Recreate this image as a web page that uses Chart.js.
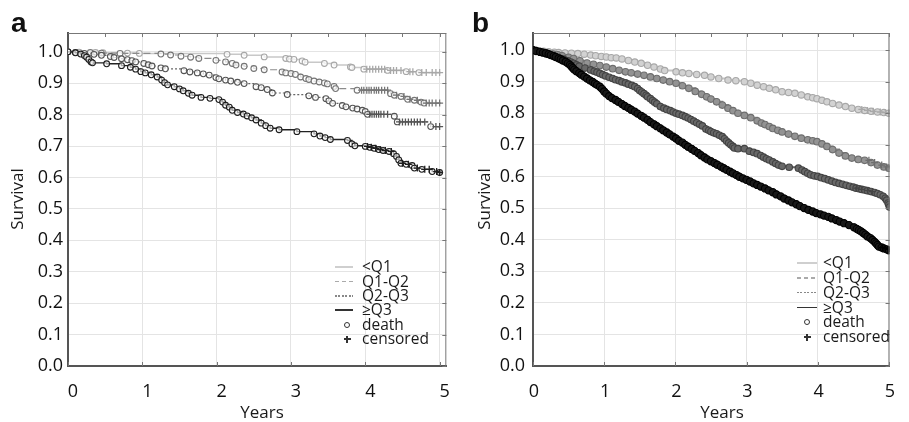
<!DOCTYPE html>
<html>
<head>
<meta charset="utf-8">
<script src="https://cdn.jsdelivr.net/npm/chart.js@4.4.1/dist/chart.umd.min.js"></script>
<style>
  body { margin: 0; background: #fff; }
  #wrap { position: relative; width: 909px; height: 422px; overflow: hidden; font-family: 'Open Sans', sans-serif; color: #1a1a1a; }
  canvas { position: absolute; top: 0; }
  .letter { position: absolute; font: bold 28px 'Liberation Sans', Arial, sans-serif; line-height: 28px; color: #111; }
  .ytitle { position: absolute; width: 200px; height: 20px; line-height: 20px; font-size: 17px; text-align: center; transform: rotate(-90deg); }
  .xtitle { position: absolute; width: 100px; height: 20px; line-height: 20px; font-size: 17px; text-align: center; }
  .lg { position: absolute; }
  .lgtxt { position: absolute; font-size: 15.5px; line-height: 14.4px; white-space: nowrap; }
</style>
</head>
<body>
<div id="wrap">
  <canvas id="chartA" width="460" height="422" style="left:0"></canvas>
  <canvas id="chartB" width="449" height="422" style="left:460px"></canvas>
  <div class="letter" style="left:11px; top:9px">a</div>
  <div class="letter" style="left:472px; top:9px">b</div>
  <div class="ytitle" style="left:-83px; top:189px">Survival</div>
  <div class="ytitle" style="left:384px; top:189px">Survival</div>
  <div class="xtitle" style="left:212px; top:402px">Years</div>
  <div class="xtitle" style="left:672px; top:402px">Years</div>
</div>
<script>
// axis ticks
const xTicks = [0, 1, 2, 3, 4, 5];
const xFrameTicks = [0.5, 1, 1.5, 2, 2.5, 3, 3.5, 4, 4.5, 5];
const yTicks = [0, 0.1, 0.2, 0.3, 0.4, 0.5, 0.6, 0.7, 0.8, 0.9, 1.0];
const seriesLabels = ['<Q1', 'Q1-Q2', 'Q2-Q3', '≥Q3'];
const markLabels = ['death', 'censored'];

// panel a: [years, survival] at each death, last entry = end of follow-up
const aLow = [[0,1],[0.15,0.999],[0.37,0.998],[0.47,0.997],[0.8,0.996],[0.96,0.995],[2.14,0.992],[2.37,0.989],[2.64,0.984],[2.93,0.979],[2.98,0.977],[3.04,0.976],[3.15,0.971],[3.19,0.967],[3.45,0.963],[3.58,0.958],[3.8,0.952],[3.82,0.95],[3.98,0.945],[4.3,0.941],[4.55,0.937],[4.72,0.934],[5.02,0.934]];
const aQ12 = [[0,1],[0.3,0.998],[0.45,0.996],[0.7,0.995],[1.25,0.993],[1.38,0.99],[1.52,0.986],[1.65,0.983],[1.76,0.979],[1.99,0.973],[2.12,0.968],[2.21,0.963],[2.26,0.958],[2.37,0.954],[2.5,0.947],[2.64,0.943],[2.88,0.936],[2.93,0.933],[3.0,0.931],[3.06,0.928],[3.13,0.92],[3.2,0.915],[3.24,0.912],[3.31,0.907],[3.38,0.904],[3.45,0.901],[3.49,0.898],[3.58,0.89],[3.6,0.883],[3.89,0.878],[4.34,0.867],[4.39,0.862],[4.48,0.858],[4.57,0.849],[4.66,0.846],[4.75,0.84],[4.79,0.837],[5.02,0.837]];
const aQ23 = [[0,1],[0.1,0.998],[0.22,0.995],[0.35,0.992],[0.45,0.989],[0.57,0.985],[0.62,0.982],[0.72,0.978],[0.8,0.975],[0.86,0.972],[0.91,0.968],[1.02,0.963],[1.08,0.959],[1.13,0.955],[1.25,0.949],[1.31,0.946],[1.56,0.94],[1.64,0.936],[1.74,0.933],[1.82,0.93],[1.9,0.926],[1.99,0.918],[2.03,0.914],[2.12,0.91],[2.19,0.907],[2.28,0.903],[2.37,0.899],[2.53,0.889],[2.6,0.886],[2.68,0.88],[2.75,0.869],[2.95,0.864],[3.24,0.86],[3.33,0.855],[3.47,0.851],[3.51,0.844],[3.56,0.836],[3.69,0.829],[3.74,0.825],[3.83,0.821],[3.89,0.818],[3.96,0.814],[4.0,0.81],[4.03,0.801],[4.39,0.795],[4.43,0.777],[4.88,0.762],[5.02,0.762]];
const aHigh = [[0,1],[0.1,0.997],[0.17,0.993],[0.22,0.988],[0.25,0.983],[0.28,0.976],[0.31,0.968],[0.33,0.965],[0.52,0.962],[0.72,0.956],[0.84,0.951],[0.91,0.945],[0.98,0.937],[1.04,0.933],[1.12,0.927],[1.2,0.92],[1.26,0.91],[1.3,0.902],[1.34,0.895],[1.43,0.889],[1.5,0.882],[1.55,0.876],[1.62,0.868],[1.67,0.862],[1.79,0.855],[1.91,0.852],[2.03,0.848],[2.08,0.84],[2.12,0.83],[2.17,0.824],[2.21,0.814],[2.28,0.807],[2.36,0.802],[2.41,0.796],[2.47,0.79],[2.53,0.783],[2.6,0.773],[2.66,0.765],[2.72,0.757],[2.84,0.752],[3.08,0.746],[3.31,0.739],[3.39,0.732],[3.46,0.727],[3.53,0.721],[3.76,0.718],[3.82,0.707],[3.86,0.701],[4.0,0.699],[4.06,0.696],[4.12,0.693],[4.18,0.689],[4.24,0.686],[4.32,0.683],[4.38,0.676],[4.42,0.667],[4.45,0.656],[4.48,0.645],[4.55,0.642],[4.63,0.638],[4.66,0.63],[4.76,0.626],[4.9,0.619],[5.0,0.616],[5.03,0.616]];
const aLowCens = [4.02,4.06,4.1,4.14,4.18,4.22,4.26,4.34,4.38,4.42,4.48,4.6,4.64,4.76,4.82,4.9,4.95,5.0];
const aQ12Cens = [3.95,3.98,4.02,4.05,4.08,4.12,4.15,4.18,4.22,4.26,4.3,4.42,4.52,4.6,4.7,4.82,4.86,4.9,4.95,5.0];
const aQ23Cens = [4.06,4.09,4.12,4.15,4.18,4.21,4.25,4.3,4.46,4.5,4.54,4.58,4.62,4.66,4.7,4.74,4.8,4.95,5.0];
const aHighCens = [4.03,4.08,4.14,4.2,4.27,4.35,4.5,4.58,4.7,4.8,4.86,4.96,5.0];

// panel b
const bLow = [[0,1],[0.04,0.999],[0.08,0.998],[0.15,0.996],[0.22,0.995],[0.3,0.993],[0.36,0.992],[0.45,0.991],[0.54,0.99],[0.63,0.989],[0.72,0.987],[0.81,0.984],[0.88,0.982],[0.96,0.98],[1.03,0.978],[1.1,0.976],[1.17,0.975],[1.25,0.972],[1.34,0.967],[1.43,0.962],[1.52,0.958],[1.61,0.952],[1.7,0.946],[1.79,0.94],[1.85,0.935],[2.01,0.931],[2.1,0.928],[2.19,0.926],[2.3,0.923],[2.41,0.92],[2.5,0.915],[2.61,0.91],[2.74,0.905],[2.85,0.903],[2.97,0.9],[3.06,0.895],[3.15,0.889],[3.24,0.884],[3.32,0.879],[3.41,0.874],[3.5,0.868],[3.59,0.866],[3.68,0.863],[3.77,0.858],[3.86,0.852],[3.93,0.849],[3.99,0.846],[4.06,0.841],[4.13,0.836],[4.21,0.831],[4.3,0.826],[4.39,0.821],[4.48,0.816],[4.57,0.812],[4.66,0.809],[4.75,0.806],[4.84,0.804],[4.93,0.802],[5.0,0.8],[5.02,0.8]];
const bQ12 = [[0,1],[0.05,0.998],[0.12,0.994],[0.2,0.99],[0.28,0.987],[0.35,0.985],[0.41,0.982],[0.5,0.977],[0.57,0.973],[0.66,0.966],[0.76,0.959],[0.85,0.955],[0.94,0.951],[1.03,0.946],[1.12,0.941],[1.21,0.936],[1.3,0.931],[1.38,0.928],[1.47,0.924],[1.56,0.92],[1.65,0.915],[1.74,0.91],[1.83,0.905],[1.92,0.9],[2.01,0.895],[2.1,0.887],[2.19,0.879],[2.28,0.869],[2.37,0.86],[2.44,0.852],[2.5,0.845],[2.58,0.836],[2.66,0.826],[2.74,0.816],[2.81,0.808],[2.88,0.8],[2.97,0.793],[3.06,0.786],[3.15,0.776],[3.21,0.769],[3.26,0.764],[3.32,0.758],[3.37,0.752],[3.44,0.746],[3.5,0.741],[3.59,0.734],[3.68,0.727],[3.77,0.721],[3.86,0.716],[3.93,0.713],[3.99,0.71],[4.06,0.703],[4.13,0.695],[4.21,0.685],[4.3,0.674],[4.39,0.665],[4.48,0.658],[4.57,0.654],[4.66,0.651],[4.75,0.644],[4.84,0.636],[4.93,0.63],[5.0,0.626],[5.02,0.626]];
const bQ23 = [[0,1],[0.05,0.997],[0.12,0.992],[0.2,0.987],[0.28,0.982],[0.36,0.976],[0.43,0.971],[0.49,0.966],[0.53,0.962],[0.57,0.958],[0.61,0.953],[0.65,0.949],[0.73,0.943],[0.81,0.937],[0.86,0.933],[0.9,0.93],[0.94,0.926],[0.98,0.922],[1.02,0.918],[1.07,0.914],[1.12,0.91],[1.16,0.906],[1.21,0.903],[1.25,0.899],[1.3,0.896],[1.34,0.892],[1.39,0.888],[1.43,0.884],[1.47,0.878],[1.5,0.872],[1.53,0.867],[1.56,0.862],[1.59,0.857],[1.61,0.852],[1.65,0.846],[1.68,0.84],[1.71,0.835],[1.74,0.83],[1.79,0.821],[1.84,0.816],[1.88,0.812],[1.93,0.808],[1.97,0.804],[2.01,0.8],[2.05,0.797],[2.1,0.793],[2.14,0.789],[2.18,0.785],[2.22,0.78],[2.26,0.775],[2.3,0.77],[2.34,0.765],[2.38,0.76],[2.43,0.75],[2.47,0.746],[2.5,0.742],[2.54,0.738],[2.58,0.735],[2.62,0.73],[2.66,0.726],[2.69,0.719],[2.72,0.712],[2.75,0.706],[2.78,0.7],[2.81,0.695],[2.83,0.69],[2.88,0.688],[2.97,0.688],[3.04,0.68],[3.1,0.676],[3.15,0.672],[3.2,0.666],[3.24,0.661],[3.28,0.656],[3.32,0.652],[3.37,0.646],[3.41,0.641],[3.45,0.636],[3.5,0.632],[3.6,0.629],[3.73,0.626],[3.78,0.62],[3.82,0.615],[3.86,0.61],[3.9,0.605],[3.95,0.602],[4.0,0.6],[4.05,0.596],[4.1,0.593],[4.15,0.589],[4.2,0.585],[4.25,0.581],[4.3,0.578],[4.35,0.575],[4.4,0.572],[4.45,0.569],[4.5,0.566],[4.54,0.563],[4.58,0.561],[4.62,0.559],[4.66,0.557],[4.7,0.555],[4.75,0.552],[4.8,0.549],[4.84,0.546],[4.88,0.542],[4.92,0.537],[4.95,0.531],[4.97,0.525],[4.99,0.516],[5.0,0.51],[5.01,0.503],[5.02,0.497]];
const bHigh = [[0,1],[0.04,0.997],[0.1,0.994],[0.14,0.992],[0.18,0.99],[0.22,0.987],[0.25,0.984],[0.29,0.981],[0.32,0.978],[0.36,0.974],[0.39,0.971],[0.42,0.967],[0.46,0.963],[0.49,0.958],[0.52,0.953],[0.54,0.948],[0.56,0.943],[0.58,0.938],[0.61,0.933],[0.65,0.927],[0.68,0.922],[0.72,0.916],[0.76,0.91],[0.8,0.904],[0.84,0.899],[0.87,0.894],[0.9,0.89],[0.94,0.884],[0.97,0.877],[1.0,0.869],[1.03,0.862],[1.07,0.854],[1.11,0.848],[1.16,0.842],[1.2,0.836],[1.25,0.829],[1.29,0.823],[1.34,0.817],[1.38,0.811],[1.43,0.805],[1.47,0.799],[1.52,0.792],[1.56,0.786],[1.61,0.779],[1.65,0.772],[1.7,0.765],[1.74,0.759],[1.79,0.752],[1.83,0.746],[1.88,0.739],[1.92,0.733],[1.97,0.726],[2.01,0.72],[2.05,0.713],[2.1,0.707],[2.14,0.7],[2.18,0.694],[2.23,0.687],[2.27,0.681],[2.32,0.674],[2.36,0.667],[2.41,0.66],[2.45,0.654],[2.5,0.648],[2.55,0.642],[2.59,0.637],[2.64,0.631],[2.68,0.626],[2.72,0.621],[2.77,0.615],[2.81,0.61],[2.86,0.604],[2.9,0.599],[2.95,0.594],[3.0,0.589],[3.05,0.584],[3.1,0.578],[3.15,0.573],[3.2,0.568],[3.26,0.562],[3.31,0.556],[3.37,0.55],[3.42,0.543],[3.48,0.537],[3.53,0.53],[3.59,0.524],[3.64,0.518],[3.7,0.512],[3.75,0.506],[3.81,0.5],[3.87,0.494],[3.93,0.489],[3.98,0.484],[4.04,0.48],[4.09,0.476],[4.15,0.472],[4.2,0.467],[4.26,0.462],[4.31,0.457],[4.37,0.452],[4.44,0.446],[4.51,0.439],[4.55,0.434],[4.58,0.43],[4.61,0.426],[4.64,0.421],[4.67,0.416],[4.7,0.41],[4.74,0.405],[4.77,0.399],[4.8,0.393],[4.82,0.388],[4.84,0.383],[4.86,0.378],[4.9,0.375],[4.93,0.372],[4.97,0.369],[5.0,0.366],[5.02,0.366]];
const bLowCens = [4.62,4.7,4.78,4.88,4.95,5.0];
const bQ12Cens = [4.72,4.8,4.9,4.97];
const bQ23Cens = [4.55,4.62,4.7,4.77];
const bHighCens = [4.91,4.95,4.99];

// survival value of a curve at time t (step function)
function survAt(curve, t) {
    let s = curve[0][1];
    curve.forEach(p => { if (p[0] <= t) s = p[1]; });
    return s;
}

const framePlugin = {
    id: 'frame',
    afterDraw(chart) {
        const { ctx, chartArea: a } = chart;
        const x = chart.scales.x, y = chart.scales.y;
        ctx.save();
        ctx.strokeStyle = '#777';
        ctx.lineWidth = 1;
        ctx.beginPath();
        ctx.moveTo(a.left, a.top + 0.5); ctx.lineTo(a.right, a.top + 0.5);
        ctx.moveTo(a.right - 0.5, a.top); ctx.lineTo(a.right - 0.5, a.bottom);
        xFrameTicks.forEach(v => {
            const px = Math.round(x.getPixelForValue(v)) + 0.5;
            ctx.moveTo(px, a.top); ctx.lineTo(px, a.top + 4);
        });
        xTicks.forEach(v => {
            const px = Math.round(x.getPixelForValue(v)) + 0.5;
            ctx.moveTo(px, a.bottom); ctx.lineTo(px, a.bottom - 4);
        });
        yTicks.forEach(v => {
            const py = Math.round(y.getPixelForValue(v)) + 0.5;
            ctx.moveTo(a.right, py); ctx.lineTo(a.right - 4, py);
        });
        ctx.stroke();
        ctx.restore();
    }
};

function makePanel(id, p) {
    const datasets = [];
    p.curves.forEach((c, i) => {
        const st = p.styles[i];
        datasets.push({
            type: 'line',
            data: c.map(q => ({ x: q[0], y: q[1] })),
            stepped: true,
            borderColor: st.line,
            borderWidth: st.width,
            borderDash: st.dash,
            pointRadius: ctx => ctx.dataIndex === c.length - 1 ? 0 : st.r,
            pointBorderColor: st.mark,
            pointBackgroundColor: st.fill,
            pointBorderWidth: p.pbw,
            pointHoverRadius: 0,
            order: 10 - i * 2
        });
        datasets.push({
            type: 'scatter',
            data: p.cens[i].map(t => ({ x: t, y: survAt(c, t) })),
            pointStyle: 'cross',
            pointRadius: 3.5,
            borderColor: st.mark,
            pointBorderWidth: 1.3,
            showLine: false,
            order: 9 - i * 2
        });
    });

    new Chart(document.getElementById(id), {
        data: { datasets },
        plugins: [framePlugin],
        options: {
            responsive: false,
            animation: false,
            devicePixelRatio: 1,
            layout: { padding: { top: 33, right: p.padRight, left: 0, bottom: 0 } },
            plugins: { legend: { display: false }, tooltip: { enabled: false } },
            scales: {
                x: {
                    type: 'linear',
                    min: 0,
                    max: p.xMax,
                    afterBuildTicks: s => { s.ticks = xTicks.map(v => ({ value: v })); },
                    afterFit: s => { s.height = 56; },
                    grid: { color: '#e4e4e4', drawTicks: false },
                    border: { color: '#555', width: 2 },
                    ticks: {
                        color: '#111',
                        font: { family: 'Open Sans', size: 18 },
                        padding: 15,
                        labelOffset: p.xOff,
                        maxRotation: 0,
                        autoSkip: false,
                        callback: v => String(v)
                    }
                },
                y: {
                    type: 'linear',
                    min: 0,
                    max: p.yMax,
                    afterBuildTicks: s => { s.ticks = yTicks.map(v => ({ value: v })); },
                    afterFit: s => { s.width = p.yWidth; },
                    grid: { color: '#e4e4e4', drawTicks: false },
                    border: { color: '#555', width: 2 },
                    ticks: {
                        color: '#111',
                        font: { family: 'Open Sans', size: 18 },
                        padding: p.yPad,
                        callback: v => v.toFixed(1)
                    }
                }
            }
        }
    });
}

function makeLegend(g) {
    const wrap = document.getElementById('wrap');
    const rows = seriesLabels.concat(markLabels);
    rows.forEach((label, i) => {
        const cy = g.top + i * g.gap;
        if (i < 4) {
            const k = document.createElement('div');
            k.className = 'lg';
            k.style.left = g.left + 'px';
            k.style.top = (cy - 0.75) + 'px';
            k.style.width = g.keyW + 'px';
            k.style.height = '1.5px';
            k.style.background = g.keys[i];
            wrap.appendChild(k);
        } else if (i === 4) {
            const k = document.createElement('div');
            k.className = 'lg';
            k.style.left = (g.symX - 3) + 'px';
            k.style.top = (cy - 3) + 'px';
            k.style.width = '4px';
            k.style.height = '4px';
            k.style.border = '1.3px solid #333';
            k.style.borderRadius = '50%';
            wrap.appendChild(k);
        } else {
            [[g.symX - 3.5, cy - 0.65, 7, 1.3], [g.symX - 0.65, cy - 3.5, 1.3, 7]].forEach(b => {
                const k = document.createElement('div');
                k.className = 'lg';
                k.style.left = b[0] + 'px';
                k.style.top = b[1] + 'px';
                k.style.width = b[2] + 'px';
                k.style.height = b[3] + 'px';
                k.style.background = '#333';
                wrap.appendChild(k);
            });
        }
        const t = document.createElement('div');
        t.className = 'lgtxt';
        t.style.left = g.textX + 'px';
        t.style.top = (cy - 7.8) + 'px';
        t.textContent = label;
        wrap.appendChild(t);
    });
}

const legendKeys = [
    '#cfcfcf',
    'repeating-linear-gradient(90deg, #aaa 0 4px, transparent 4px 7px)',
    'repeating-linear-gradient(90deg, #888 0 2px, transparent 2px 3.5px)',
    '#333'
];

makePanel('chartA', {
    curves: [aLow, aQ12, aQ23, aHigh],
    cens: [aLowCens, aQ12Cens, aQ23Cens, aHighCens],
    xMax: 5.09, yMax: 1.06, yWidth: 68, padRight: 13, yPad: 5, xOff: 5,
    pbw: 1.1,
    styles: [
        { line: '#c8c8c8', width: 1.5, dash: [], mark: '#a8a8a8', fill: 'rgba(255,255,255,0.7)', r: 2.9 },
        { line: '#8c8c8c', width: 1.2, dash: [7, 4], mark: '#767676', fill: 'rgba(255,255,255,0.7)', r: 2.9 },
        { line: '#666', width: 1.2, dash: [2, 2], mark: '#555', fill: 'rgba(255,255,255,0.7)', r: 2.9 },
        { line: '#222', width: 1.4, dash: [], mark: '#1e1e1e', fill: 'rgba(255,255,255,0.6)', r: 2.9 }
    ]
});

makePanel('chartB', {
    curves: [bLow, bQ12, bQ23, bHigh],
    cens: [bLowCens, bQ12Cens, bQ23Cens, bHighCens],
    xMax: 5.01, yMax: 1.054, yWidth: 73, padRight: 1, yPad: 8, xOff: 1,
    pbw: 1.1,
    styles: [
        { line: '#c4c4c4', width: 2, dash: [], mark: '#a8a8a8', fill: '#d2d2d2', r: 3.2 },
        { line: '#8a8a8a', width: 2, dash: [], mark: '#6e6e6e', fill: '#939393', r: 3.3 },
        { line: '#5e5e5e', width: 2, dash: [], mark: '#444', fill: '#686868', r: 3.3 },
        { line: '#111', width: 3, dash: [], mark: '#000', fill: '#181818', r: 3.6 }
    ]
});

makeLegend({ left: 335, top: 267, gap: 14.4, keyW: 18, textX: 362, symX: 347, keys: legendKeys });
makeLegend({ left: 797, top: 263, gap: 14.8, keyW: 20, textX: 823, symX: 807, keys: legendKeys });
</script>
</body>
</html>
